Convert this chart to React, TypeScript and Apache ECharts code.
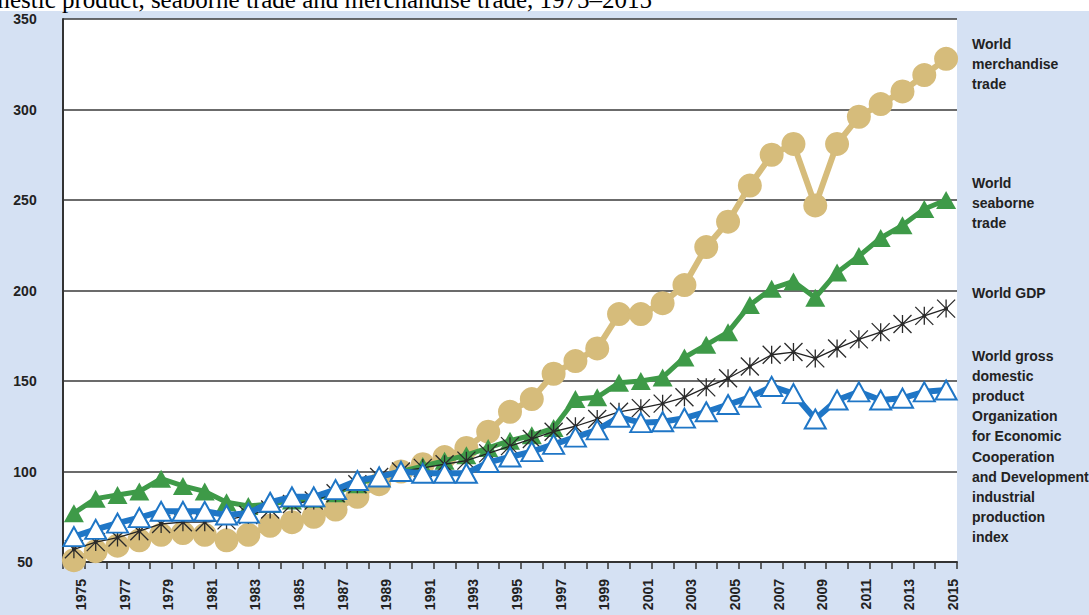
import React, { useEffect, useRef } from "react";
import * as echarts from "echarts";

const years = [
  "1975", "1976", "1977", "1978", "1979", "1980", "1981", "1982", "1983", "1984",
  "1985", "1986", "1987", "1988", "1989", "1990", "1991", "1992", "1993", "1994",
  "1995", "1996", "1997", "1998", "1999", "2000", "2001", "2002", "2003", "2004",
  "2005", "2006", "2007", "2008", "2009", "2010", "2011", "2012", "2013", "2014", "2015",
];

const merchandiseTrade = [
  51, 56, 59, 62, 65, 66, 65, 62, 65, 70,
  72, 75, 79, 86, 93, 100, 104, 108, 113, 122,
  133, 140, 154, 161, 168, 187, 187, 193, 203, 224,
  238, 258, 275, 281, 247, 281, 296, 303, 310, 319, 328,
];

const seaborneTrade = [
  77, 85, 87, 89, 96, 92, 89, 83, 81, 82,
  84, 85, 88, 93, 97, 100, 103, 106, 109, 113,
  117, 120, 124, 140, 141, 149, 150, 152, 163, 170,
  177, 192, 201, 205, 196, 210, 219, 229, 236, 245, 250,
];

const worldGDP = [
  57, 61, 63.5, 67, 71, 72, 72, 73, 76, 79,
  82, 84, 88, 93, 97, 100, 102, 104, 106, 110,
  114, 118, 122, 125, 129, 133, 135, 137.5, 141, 146.5,
  151.5, 158, 164.5, 166, 162.5, 168, 173, 177, 181.5, 186, 190,
];

const oecdIndustrialProduction = [
  64, 68, 71.5, 74.5, 78, 78, 78, 76, 77, 83,
  86, 86, 90, 95, 97, 100, 99, 99, 99, 105,
  108, 111, 115, 119, 123, 130, 127, 127.5, 129.5, 133,
  137, 141, 147, 143, 129, 139.5, 144, 139.5, 140.5, 144, 145,
];

const yMin = 50;
const yMax = 350;
const yStep = 50;

const titleText = "mestic product, seaborne trade and merchandise trade, 1975\u20132015";

const legendMerchandise = ["World", "merchandise", "trade"];
const legendSeaborne = ["World", "seaborne", "trade"];
const legendGDP = ["World GDP"];
const legendOECD = [
  "World gross", "domestic", "product", "Organization", "for Economic",
  "Cooperation", "and Development", "industrial", "production", "index",
];

const GOLD = "#d6bc7b";
const GREEN = "#3e9a48";
const BLUE = "#1f76c6";
const BG = "#d5e1f3";

const asterisk =
  "path://M0,0L20,20M20,0L0,20M10,0L10,20M8.6,8.6L11.4,8.6L11.4,11.4L8.6,11.4Z";

export default function App() {
  const ref = useRef<HTMLDivElement>(null);

  useEffect(() => {
    const chart = echarts.init(ref.current!, undefined, { renderer: "svg" });
    const legendText = (lines: string[], top: number) => ({
      type: "text",
      left: 972,
      top,
      style: {
        text: lines.join("\n"),
        fontFamily: "Liberation Sans, Arial, sans-serif",
        fontSize: 14,
        fontWeight: "bold",
        fill: "#222",
        lineHeight: 20.1,
      },
      z: 10,
    });
    chart.setOption({
      animation: false,
      backgroundColor: BG,
      grid: {
        left: 63,
        top: 19,
        width: 894,
        height: 543,
        show: true,
        backgroundColor: "#ffffff",
        borderWidth: 0,
      },
      xAxis: {
        type: "category",
        data: years,
        boundaryGap: true,
        axisLine: { show: true, lineStyle: { color: "#333", width: 2 } },
        axisTick: {
          show: true,
          interval: 0,
          length: 7,
          lineStyle: { color: "#333", width: 1.5 },
        },
        axisLabel: {
          interval: 1,
          rotate: 90,
          margin: 17,
          fontFamily: "Liberation Sans, Arial, sans-serif",
          fontSize: 14,
          fontWeight: "bold",
          color: "#222",
          verticalAlign: "top",
        },
        splitLine: { show: false },
      },
      yAxis: {
        type: "value",
        min: yMin,
        max: yMax,
        interval: yStep,
        axisLine: { show: true, lineStyle: { color: "#333", width: 2 } },
        axisTick: { show: false },
        axisLabel: {
          margin: 38,
          align: "center",
          fontFamily: "Liberation Sans, Arial, sans-serif",
          fontSize: 14,
          fontWeight: "bold",
          color: "#222",
        },
        splitLine: { show: true, lineStyle: { color: "#3a3a3a", width: 1.6 } },
      },
      graphic: [
        { type: "rect", left: 0, top: 0, shape: { width: 1089, height: 11 }, style: { fill: "#ffffff" }, z: 1 },
        {
          type: "text",
          x: -9.5,
          y: -0.5,
          style: {
            text: titleText,
            fontFamily: "Liberation Serif, Times New Roman, serif",
            fontSize: 25,
            fill: "#000",
            verticalAlign: "middle",
          },
          z: 2,
        },
        legendText(legendMerchandise, 34),
        legendText(legendSeaborne, 173),
        legendText(legendGDP, 283),
        legendText(legendOECD, 346),
      ],
      series: [
        {
          name: "World merchandise trade",
          type: "line",
          data: merchandiseTrade,
          symbol: "circle",
          symbolSize: 24,
          showAllSymbol: true,
          lineStyle: { color: GOLD, width: 6 },
          itemStyle: { color: GOLD, borderWidth: 0 },
          z: 2,
        },
        {
          name: "World seaborne trade",
          type: "line",
          data: seaborneTrade,
          symbol: "triangle",
          symbolSize: [20, 18],
          showAllSymbol: true,
          lineStyle: { color: GREEN, width: 5 },
          itemStyle: { color: GREEN, borderWidth: 0 },
          z: 3,
        },
        {
          name: "World GDP",
          type: "line",
          data: worldGDP,
          symbol: asterisk,
          symbolSize: 18,
          showAllSymbol: true,
          lineStyle: { color: "#222", width: 1.3 },
          itemStyle: { color: "#000", borderColor: "#2a2a2a", borderWidth: 1.3 },
          z: 4,
        },
        {
          name: "OECD industrial production index",
          type: "line",
          data: oecdIndustrialProduction,
          symbol: "triangle",
          symbolSize: [21, 19],
          showAllSymbol: true,
          lineStyle: { color: BLUE, width: 6 },
          itemStyle: { color: "#ffffff", borderColor: BLUE, borderWidth: 2 },
          z: 5,
        },
      ],
    });
    return () => chart.dispose();
  }, []);

  return (
    <div
      ref={ref}
      style={{ position: "absolute", left: 0, top: 0, width: 1089, height: 615, background: BG }}
    />
  );
}
